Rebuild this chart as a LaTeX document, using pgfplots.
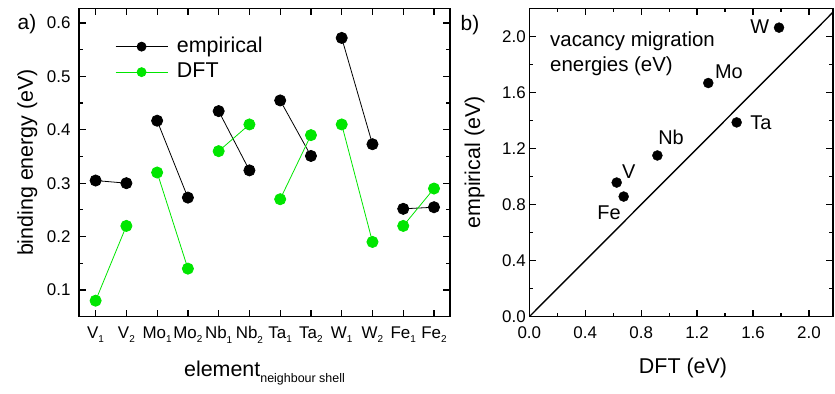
\documentclass[border=0pt]{standalone}
\usepackage{fontspec}
\setmainfont{Liberation Sans}
\usepackage{pgfplots}
\pgfplotsset{compat=1.18}
\definecolor{dftgreen}{RGB}{0,230,0}
\newcommand{\fs}[1]{\fontsize{#1}{#1}\selectfont}
\newcommand{\sub}[1]{\raisebox{-4.5bp}{\fontsize{10}{10}\selectfont #1}}

\pgfplotstableread{
x y
0 0.305
1 0.300
nan nan
2 0.417
3 0.273
nan nan
4 0.435
5 0.324
nan nan
6 0.455
7 0.351
nan nan
8 0.572
9 0.373
nan nan
10 0.252
11 0.255
}\empirical

\pgfplotstableread{
x y
0 0.080
1 0.220
nan nan
2 0.320
3 0.140
nan nan
4 0.360
5 0.410
nan nan
6 0.270
7 0.390
nan nan
8 0.410
9 0.190
nan nan
10 0.220
11 0.290
}\dft

\pgfplotstableread{
x y
1.786 2.062
1.280 1.667
1.483 1.386
0.916 1.150
0.625 0.957
0.675 0.857
}\migration

\begin{document}
\begin{tikzpicture}
\pgfplotsset{
  every axis/.append style={
    scale only axis,
    axis line style={line width=1.4bp},
    tick style={line width=1.2bp, black},
    major tick length=7bp,
    minor tick length=4bp,
    tick align=inside,
    tick label style={font=\fs{17}},
    /pgf/number format/assume math mode=true,
    /pgf/number format/fixed,
    /pgf/number format/fixed zerofill,
    /pgf/number format/precision=1,
  },
}
\begin{axis}[
  at={(0,0)}, anchor=south west,
  width=371bp, height=308.4bp,
  xmin=-0.54, xmax=11.52, ymin=0.05, ymax=0.6275,
  xtick={0,1,2,3,4,5,6,7,8,9,10,11},
  xticklabels={V\sub{1}, V\sub{2}, Mo\sub{1}, Mo\sub{2}, Nb\sub{1}, Nb\sub{2}, Ta\sub{1}, Ta\sub{2}, W\sub{1}, W\sub{2}, Fe\sub{1}, Fe\sub{2}},
  xticklabel style={yshift=-6.5bp},
  ytick={0.1,0.2,0.3,0.4,0.5,0.6},
  minor y tick num=1,
  yticklabel style={xshift=-5bp},
  xlabel={element\raisebox{-6bp}{\fontsize{12.5}{12.5}\selectfont neighbour shell}},
  ylabel={binding energy (eV)},
  every axis x label/.style={at={(axis description cs:0.5,-0.1946)}, anchor=base, font=\fs{21.5}},
  every axis y label/.style={at={(axis description cs:-0.124,0.5)}, rotate=90, anchor=base, font=\fs{21.5}},
  unbounded coords=jump,
  legend style={draw=none, fill=none, inner sep=0pt, at={(axis description cs:0.097,0.912)}, anchor=north west,
    font=\fs{21.5}, row sep=3.5bp, column sep=8bp, nodes={inner sep=1bp, text height=15.5bp, text depth=4.5bp}},
  legend cell align=left,
  legend image code/.code={\draw[mark repeat=2,mark phase=2,mark size=4.5bp,#1] plot coordinates {(0bp,0bp) (26bp,0bp) (52bp,0bp)};},
]
\addplot[black, line width=0.8bp, mark=*, mark size=5.6bp, mark options={solid}] table[x=x,y=y] {\empirical};
\addlegendentry{empirical}
\addplot[dftgreen, line width=0.8bp, mark=*, mark size=5.6bp, mark options={solid}] table[x=x,y=y] {\dft};
\addlegendentry{DFT}
\end{axis}

\begin{axis}[
  at={(450.3bp,0)}, anchor=south west,
  width=303.7bp, height=308.4bp,
  xmin=0, xmax=2.172, ymin=0, ymax=2.2,
  xtick={0,0.4,0.8,1.2,1.6,2.0},
  ytick={0,0.4,0.8,1.2,1.6,2.0},
  minor x tick num=1, minor y tick num=1,
  xticklabel style={yshift=-6bp},
  xlabel={DFT (eV)},
  ylabel={empirical (eV)},
  every axis x label/.style={at={(axis description cs:0.506,-0.1835)}, anchor=base, font=\fs{21.5}},
  every axis y label/.style={at={(axis description cs:-0.162,0.5)}, rotate=90, anchor=base, font=\fs{21.5}},
]
\addplot[black, line width=1.4bp, no marks] coordinates {(0,0) (2.3,2.3)};
\addplot[black, only marks, mark=*, mark size=5bp] table[x=x,y=y] {\migration};
\node[font=\fs{20}] at (axis cs:1.649,2.069) {W};
\node[font=\fs{20}] at (axis cs:1.428,1.748) {Mo};
\node[font=\fs{20}] at (axis cs:1.656,1.384) {Ta};
\node[font=\fs{20}] at (axis cs:1.014,1.276) {Nb};
\node[font=\fs{20}] at (axis cs:0.712,1.034) {V};
\node[font=\fs{20}] at (axis cs:0.570,0.741) {Fe};
\node[font=\fontsize{20.5}{25}\selectfont, align=left, anchor=north west, inner sep=0pt] at (axis cs:0.148,2.034) {vacancy migration\\energies (eV)};
\end{axis}

\node[font=\fs{21}] at (-52bp,292.7bp) {a)};
\node[font=\fs{21}] at (391bp,291.7bp) {b)};

\pgfresetboundingbox
\path[use as bounding box] (-79bp,-77.3bp) rectangle (756bp,316.7bp);
\end{tikzpicture}
\end{document}
